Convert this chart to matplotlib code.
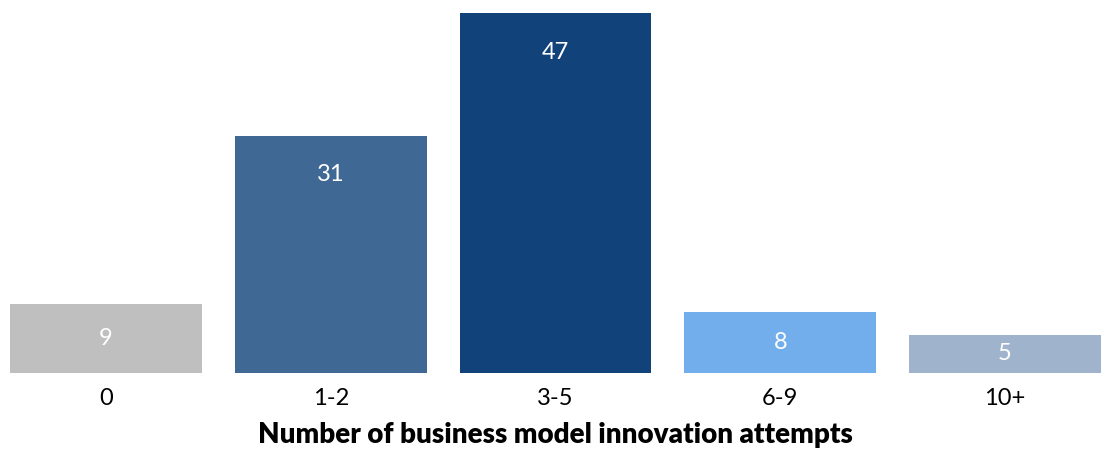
import matplotlib.pyplot as plt

plt.rcParams['font.family'] = ['Lato', 'DejaVu Sans']

categories = ['0', '1-2', '3-5', '6-9', '10+']
values = [9, 31, 47, 8, 5]
colors = ['#bfbfbf', '#3f6894', '#12427a', '#72aeec', '#9fb3cc']

fig = plt.figure(figsize=(11.05, 4.49), dpi=100)
ax = fig.add_axes([10 / 1105, 1 - 373 / 449, 1091 / 1105, 360 / 449])

x = range(len(categories))
ax.bar(x, values, width=0.854, color=colors)

# value labels sit just below the bar top, or in the middle for short bars
for i, v in zip(x, values):
    ax.text(i, max(v - 5.1, v / 2), str(v), ha='center', va='center',
            color='white', fontsize=17, fontweight='normal')

ax.set_xlim(-0.427, 4.427)
ax.set_ylim(0, 47)
ax.set_xticks(list(x))
ax.set_xticklabels(categories, fontsize=17, fontweight='normal', color='black')
ax.tick_params(axis='x', length=0, pad=11)
ax.set_yticks([])
for s in ax.spines.values():
    s.set_visible(False)

ax.set_xlabel('Number of business model innovation attempts',
              fontsize=20, fontweight='heavy', labelpad=9)

fig.savefig('out.png', dpi=100)
